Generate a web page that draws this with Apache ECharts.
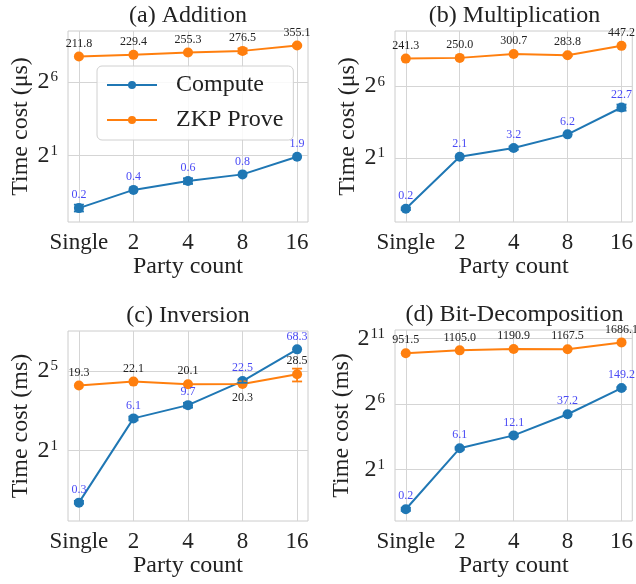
<!DOCTYPE html>
<html><head><meta charset="utf-8">
<script src="https://cdn.jsdelivr.net/npm/echarts@6/dist/echarts.min.js"></script>
<style>html,body{margin:0;padding:0;background:#fff}#c{width:636px;height:584px}</style>
</head><body><div id="c"></div>
<script>
// ---------------- data ----------------
const categories = ['Single', '2', '4', '8', '16'];
const titles = ['(a) Addition', '(b) Multiplication', '(c) Inversion', '(d) Bit-Decomposition'];
const yNames = ['Time cost (μs)', 'Time cost (μs)', 'Time cost (ms)', 'Time cost (ms)'];
const xName = 'Party count';
const seriesNames = ['Compute', 'ZKP Prove'];

const addCompute = [0.17, 0.40, 0.61, 0.83, 1.9];
const addZkp = [211.8, 229.4, 255.3, 276.5, 355.1];
const mulCompute = [0.17, 2.1, 3.2, 6.2, 22.7];
const mulZkp = [241.3, 250.0, 300.7, 283.8, 447.2];
const invCompute = [0.32, 6.1, 9.7, 22.5, 68.3];
const invZkp = [19.3, 22.1, 20.1, 20.3, 28.5];
const bitCompute = [0.24, 6.1, 12.1, 37.2, 149.2];
const bitZkp = [951.5, 1105.0, 1190.9, 1167.5, 1686.1];

// error bars [low, high] (null = none visible)
const addComputeErr = [[0.145, 0.20], null, [0.53, 0.69], null, null];
const addZkpErr = [null, null, null, [247, 308], [342, 368]];
const mulComputeErr = [[0.16, 0.18], null, [2.95, 3.45], null, [19.5, 26.2]];
const mulZkpErr = [null, null, null, [272, 296], null];
const invComputeErr = [[0.31, 0.34], [5.7, 6.5], [8.9, 10.5], [21.2, 23.8], null];
const invZkpErr = [null, null, null, null, [22.2, 34.8]];
const bitComputeErr = [[0.22, 0.26], [5.7, 6.5], [11.3, 12.9], null, [141, 157]];
const bitZkpErr = [null, null, null, null, null];

// y tick exponents (base 2)
const yTickExps = [[1, 6], [1, 6], [1, 5], [1, 6, 11]];

// ---------------- layout ----------------
const panels = [
  { grid: { left: 68, top: 31, width: 240, height: 191 }, yr: [-3.5, 9.46], c: addCompute, z: addZkp, ce: addComputeErr, ze: addZkpErr, below: [] },
  { grid: { left: 395, top: 31, width: 239, height: 191 }, yr: [-3.48, 9.84], c: mulCompute, z: mulZkp, ce: mulComputeErr, ze: mulZkpErr, below: [] },
  { grid: { left: 68, top: 331, width: 240, height: 190 }, yr: [-2.57, 7.02], c: invCompute, z: invZkp, ce: invComputeErr, ze: invZkpErr, below: [3] },
  { grid: { left: 395, top: 330, width: 239, height: 191 }, yr: [-2.96, 11.67], c: bitCompute, z: bitZkp, ce: bitComputeErr, ze: bitZkpErr, below: [] }
];

const FONT = 'Liberation Serif';
const BLUE = '#1f77b4', ORANGE = '#ff7f0e';
const xIdx = categories.map((_, i) => i);

const option = {
  backgroundColor: '#fff',
  animation: false,
  title: [], grid: [], xAxis: [], yAxis: [], series: [],
  legend: {
    data: seriesNames,
    left: 97, top: 66, orient: 'vertical',
    padding: [6, 10, 7, 9], itemGap: 9,
    itemWidth: 50, itemHeight: 10,
    backgroundColor: 'rgba(255,255,255,0.85)',
    borderColor: '#d0d0d0', borderWidth: 1, borderRadius: 5,
    textStyle: { fontFamily: FONT, fontSize: 24, color: '#222', lineHeight: 26, padding: [0, 0, 0, 14] }
  }
};

function errSeries(i, vals, color) {
  const d = [];
  vals.forEach((e, k) => { if (e) d.push([k, e[0], e[1]]); });
  return {
    type: 'custom', xAxisIndex: i, yAxisIndex: i, z: 5, silent: true,
    data: d,
    encode: { x: 0, y: [1, 2] },
    renderItem: function (params, api) {
      const x = api.value(0);
      const p1 = api.coord([x, api.value(1)]);
      const p2 = api.coord([x, api.value(2)]);
      const w = 5;
      const st = { stroke: color, lineWidth: 1.8 };
      return { type: 'group', children: [
        { type: 'line', shape: { x1: p1[0], y1: p1[1], x2: p2[0], y2: p2[1] }, style: st },
        { type: 'line', shape: { x1: p1[0] - w, y1: p1[1], x2: p1[0] + w, y2: p1[1] }, style: st },
        { type: 'line', shape: { x1: p2[0] - w, y1: p2[1], x2: p2[0] + w, y2: p2[1] }, style: st }
      ] };
    }
  };
}

panels.forEach((p, i) => {
  const g = p.grid;
  option.grid.push(Object.assign({ show: true, borderColor: '#cccccc', borderWidth: 1, backgroundColor: '#fff' }, g));
  option.title.push({
    text: titles[i], left: g.left + g.width / 2, top: g.top - 27, textAlign: 'center', padding: 0,
    textStyle: { fontFamily: FONT, fontSize: 24, fontWeight: 'normal', color: '#222' }
  });
  option.xAxis.push({
    type: 'value', gridIndex: i, min: -0.2, max: 4.2,
    name: xName, nameLocation: 'middle', nameGap: 32,
    nameTextStyle: { fontFamily: FONT, fontSize: 24, color: '#222' },
    axisLine: { show: false },
    axisTick: { show: false, customValues: xIdx },
    axisLabel: { customValues: xIdx, margin: 9, fontFamily: FONT, fontSize: 23, color: '#222',
      formatter: v => categories[Math.round(v)] },
    splitLine: { show: true, lineStyle: { color: '#d5d5d5', width: 1 } }
  });
  const yt = yTickExps[i].map(e => Math.pow(2, e));
  option.yAxis.push({
    type: 'log', logBase: 2, gridIndex: i,
    min: Math.pow(2, p.yr[0]), max: Math.pow(2, p.yr[1]),
    name: yNames[i], nameLocation: 'middle', nameGap: 35,
    nameTextStyle: { fontFamily: FONT, fontSize: 24, color: '#222' },
    axisLine: { show: false },
    axisTick: { show: false, customValues: yt },
    axisLabel: { customValues: yt, margin: 10,
      formatter: v => '{b|2}{s|' + Math.round(Math.log2(v)) + '}',
      rich: {
        b: { fontFamily: FONT, fontSize: 24, color: '#222', lineHeight: 24, verticalAlign: 'bottom' },
        s: { fontFamily: FONT, fontSize: 15, color: '#222', lineHeight: 24, verticalAlign: 'top', padding: [0, 0, 8, 1] }
      } },
    splitLine: { show: true, lineStyle: { color: '#d5d5d5', width: 1 } }
  });
  const mk = (vals, below) => vals.map((v, k) => ({
    value: [k, v],
    label: below.indexOf(k) >= 0 ? { position: 'bottom', distance: 3 } : undefined
  }));
  option.series.push({
    name: seriesNames[0], type: 'line', xAxisIndex: i, yAxisIndex: i, z: 3,
    data: mk(p.c, []), symbol: 'circle', symbolSize: 10, color: BLUE,
    lineStyle: { width: 2, color: BLUE }, itemStyle: { color: BLUE },
    label: { show: true, position: 'top', distance: 2, fontFamily: FONT, fontSize: 12, color: '#4a4af5',
      formatter: prm => prm.value[1].toFixed(1) }
  });
  option.series.push({
    name: seriesNames[1], type: 'line', xAxisIndex: i, yAxisIndex: i, z: 3,
    data: mk(p.z, p.below), symbol: 'circle', symbolSize: 10, color: ORANGE,
    lineStyle: { width: 2, color: ORANGE }, itemStyle: { color: ORANGE },
    label: { show: true, position: 'top', distance: 2, fontFamily: FONT, fontSize: 12, color: '#222',
      formatter: prm => prm.value[1].toFixed(1) }
  });
  option.series.push(errSeries(i, p.ce, BLUE));
  option.series.push(errSeries(i, p.ze, ORANGE));
});

const chart = echarts.init(document.getElementById('c'), null, { renderer: 'canvas' });
chart.setOption(option);
</script>
</body></html>
